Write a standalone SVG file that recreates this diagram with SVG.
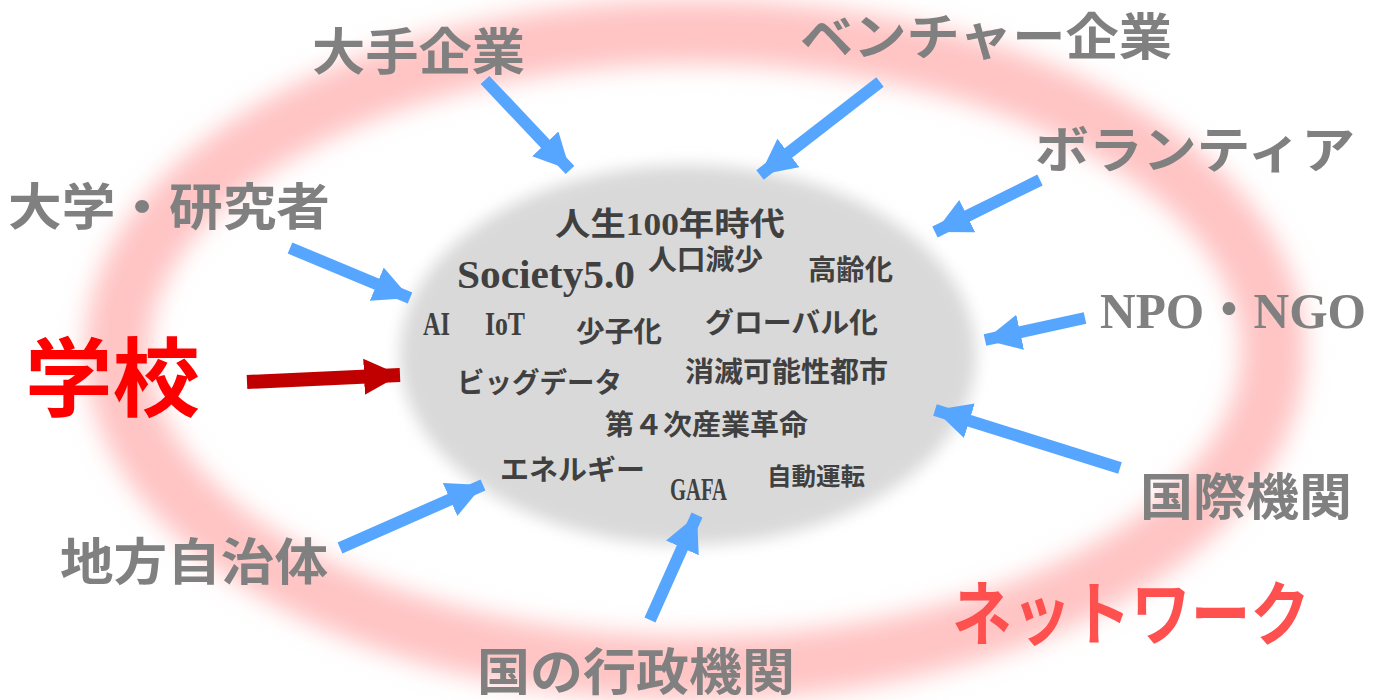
<svg xmlns="http://www.w3.org/2000/svg" width="1386" height="700" viewBox="0 0 1386 700">
<defs>
<filter id="blurRing" x="-10%" y="-10%" width="120%" height="120%"><feGaussianBlur stdDeviation="12"/></filter>
<filter id="blurCore" x="-10%" y="-10%" width="120%" height="120%"><feGaussianBlur stdDeviation="8"/></filter>
<marker id="headB" markerUnits="userSpaceOnUse" markerWidth="40" markerHeight="40" refX="36" refY="18" orient="auto"><path d="M0,0 L36,18 L0,36 Z" fill="#56a5ff"/></marker>
<marker id="headR" markerUnits="userSpaceOnUse" markerWidth="40" markerHeight="40" refX="36" refY="18" orient="auto"><path d="M0,0 L36,18 L0,36 Z" fill="#c00000"/></marker>
</defs>
<style>
.outer{font-family:"Liberation Serif","Noto Sans CJK JP",serif;font-weight:bold;fill:#808080;font-size:50px}
.inner{font-family:"Liberation Serif","Noto Sans CJK JP",serif;font-weight:bold;fill:#404040;font-size:28px}
.blue{stroke:#56a5ff;stroke-width:12;fill:none;marker-end:url(#headB)}
</style>
<rect width="1386" height="700" fill="#ffffff"/>
<g id="ring"><ellipse cx="695" cy="350" rx="578" ry="318" fill="none" stroke="#ffc4c4" stroke-width="64" filter="url(#blurRing)"/></g>
<g id="core"><ellipse cx="688" cy="355" rx="288" ry="190" fill="#d9d9d9" filter="url(#blurCore)"/></g>
<g id="connectors">
<line class="blue" x1="485" y1="80" x2="570" y2="170"/>
<line class="blue" x1="880" y1="82" x2="760" y2="175"/>
<line class="blue" x1="1040" y1="180" x2="935" y2="232"/>
<line class="blue" x1="290" y1="248" x2="410" y2="298"/>
<line class="blue" x1="1085" y1="318" x2="985" y2="340"/>
<line class="blue" x1="1120" y1="468" x2="935" y2="410"/>
<line class="blue" x1="340" y1="548" x2="483" y2="485"/>
<line class="blue" x1="650" y1="620" x2="697" y2="515"/>
<line x1="247" y1="382" x2="400" y2="375" stroke="#c00000" stroke-width="14" marker-end="url(#headR)"/>
</g>
<g id="n-daite"><text class="outer" x="312" y="70" textLength="213" lengthAdjust="spacingAndGlyphs">大手企業</text></g>
<g id="n-venture"><text class="outer" x="800" y="55" textLength="372" lengthAdjust="spacingAndGlyphs">ベンチャー企業</text></g>
<g id="n-volunteer"><text class="outer" x="1035" y="168" textLength="320" lengthAdjust="spacingAndGlyphs">ボランティア</text></g>
<g id="n-univ"><text class="outer" x="8" y="225" textLength="322" lengthAdjust="spacingAndGlyphs">大学・研究者</text></g>
<g id="n-npo"><text class="outer" x="1100" y="328" style="font-size:51px" textLength="266" lengthAdjust="spacingAndGlyphs">NPO・NGO</text></g>
<g id="n-intl"><text class="outer" x="1140" y="515" textLength="212" lengthAdjust="spacingAndGlyphs">国際機関</text></g>
<g id="n-local"><text class="outer" x="60" y="580" textLength="268" lengthAdjust="spacingAndGlyphs">地方自治体</text></g>
<g id="n-gov"><text class="outer" x="477" y="690" textLength="318" lengthAdjust="spacingAndGlyphs">国の行政機関</text></g>
<g id="n-school"><text x="25" y="410" font-family="Liberation Serif,Noto Sans CJK JP,serif" font-weight="bold" font-size="86" fill="#ff0000" textLength="175" lengthAdjust="spacingAndGlyphs">学校</text></g>
<g id="n-network"><text x="952" y="640" font-family="Liberation Serif,Noto Sans CJK JP,serif" font-weight="bold" font-size="70" fill="#ff5050" textLength="358" lengthAdjust="spacingAndGlyphs">ネットワーク</text></g>
<g id="keywords">
<text class="inner" x="555" y="235" style="font-size:32px" textLength="230" lengthAdjust="spacingAndGlyphs">人生100年時代</text>
<text class="inner" x="457" y="288" style="font-size:40px" textLength="178" lengthAdjust="spacingAndGlyphs">Society5.0</text>
<text class="inner" x="648" y="270" textLength="115" lengthAdjust="spacingAndGlyphs">人口減少</text>
<text class="inner" x="808" y="280" textLength="85" lengthAdjust="spacingAndGlyphs">高齢化</text>
<text class="inner" x="423" y="335" style="font-size:33px" textLength="27" lengthAdjust="spacingAndGlyphs">AI</text>
<text class="inner" x="485" y="335" style="font-size:33px" textLength="40" lengthAdjust="spacingAndGlyphs">IoT</text>
<text class="inner" x="576" y="342" textLength="86" lengthAdjust="spacingAndGlyphs">少子化</text>
<text class="inner" x="705" y="333" textLength="173" lengthAdjust="spacingAndGlyphs">グローバル化</text>
<text class="inner" x="457" y="393" textLength="165" lengthAdjust="spacingAndGlyphs">ビッグデータ</text>
<text class="inner" x="685" y="382" textLength="203" lengthAdjust="spacingAndGlyphs">消滅可能性都市</text>
<text class="inner" x="605" y="435" textLength="203" lengthAdjust="spacingAndGlyphs">第４次産業革命</text>
<text class="inner" x="500" y="480" textLength="145" lengthAdjust="spacingAndGlyphs">エネルギー</text>
<text class="inner" x="670" y="500" style="font-size:32px" textLength="57" lengthAdjust="spacingAndGlyphs">GAFA</text>
<text class="inner" x="767" y="485" style="font-size:24px" textLength="98" lengthAdjust="spacingAndGlyphs">自動運転</text>
</g>
</svg>
